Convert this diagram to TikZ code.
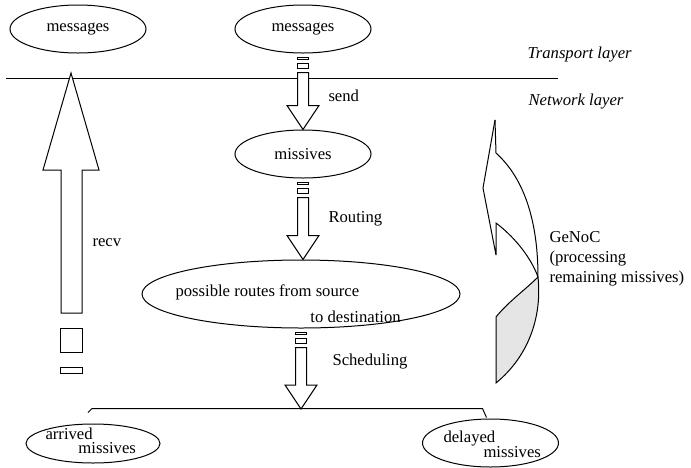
\documentclass[tikz,border=0pt]{standalone}
\usepackage{fontspec}
\setmainfont{Liberation Serif}
\usetikzlibrary{shapes.geometric,calc}

\begin{document}
\begin{tikzpicture}[x=0.6pt,y=-0.6pt,line width=0.6pt]
    \tikzset{
      msg/.style={draw,ellipse,inner sep=0,minimum width=81.6pt,minimum height=28.8pt},
      txt/.style={inner sep=0,anchor=base west},
      layer/.style={txt,font=\itshape},
      block/.style={draw,fill=white,line join=miter}};
    \useasboundingbox (0,0) rectangle (691,467);
    % layers
    \draw (6,78) -- (558,78);
    \node[layer] (transport) at (527,58) {Transport layer};
    \node[layer] (network) at (528,105) {Network layer};
    \node[msg] (msga) at (78,29) {messages};
    \node[msg] (msgb) at (303,29) {messages};
    \node[msg] (mis) at (303,154) {missives};
    \node[msg,minimum width=190.8pt,minimum height=40.8pt] (routes) at (301,294) {};
    \node[txt] (routes-a) at (175,296) {possible routes from source};
    \node[txt] (routes-b) at (310,322) {to destination};
    \node[msg,minimum width=80.4pt,minimum height=23.4pt] (arr) at (93,443.5) {};
    \node[txt] (arr-a) at (45,439) {arrived};
    \node[txt] (arr-b) at (78,453) {missives};
    \node[msg] (del) at (490.5,443) {};
    \node[txt] (del-a) at (443,442) {delayed};
    \node[txt] (del-b) at (483,457) {missives};
    % split into arrived / delayed
    \coordinate (split) at (302,409);
    \draw ($(arr.north)+(-5,-11)$) -- ++(4,-4) -- ($(del.north)+(-8,-10)$) -- ++(4,9);
    % send, routing, scheduling
    \foreach \src/\dst in {msgb/mis.north,mis/routes.north,routes/split}{
      \draw[block] (\src.south) ++(-5.5,4) rectangle ++(11,2);
      \draw[block] (\src.south) ++(-5.5,10) rectangle ++(11,5);
      \draw[block] ($(\src.south)+(-5.5,19)$) -- ($(\src.south |- \dst)+(-5.5,-24)$) -- ++(-10.5,0)
        -- (\src.south |- \dst) -- ++(16,-24) -- ++(-10.5,0) -- ($(\src.south)+(5.5,19)$) -- cycle;
    }
    \node[txt] (send) at (328,101) {send};
    \node[txt] (routing) at (328,222) {Routing};
    \node[txt] (sched) at (332,365) {Scheduling};
    % recv
    \draw[block] (61,313) -- (61,170) -- (43,170) -- (71,73) -- (99,170) -- (82,170) -- (82,313) -- cycle;
    \draw[block] (60,328) rectangle (82,352);
    \draw[block] (60,367) rectangle (82,373);
    \node[txt] (recv) at (92,246) {recv};
    % GeNoC loop
    \fill[gray!20] (496,317) -- (496,383) .. controls (530,355) and (542,315) .. (538,277)
      .. controls (525,290) and (508,302) .. (496,317);
    \draw (495,120) -- (496,153) .. controls (526,180) and (538,225) .. (538,277)
      .. controls (542,315) and (530,355) .. (496,383) -- (496,317)
      .. controls (508,302) and (525,290) .. (538,277);
    \draw (495,120) -- (483,188) -- (496,255) -- (496,223) .. controls (512,235) and (530,255) .. (538,277);
    \node[inner sep=0,anchor=west,align=left] (genoc) at (549,259) {GeNoC\\(processing\\remaining missives)};
\end{tikzpicture}
\end{document}
